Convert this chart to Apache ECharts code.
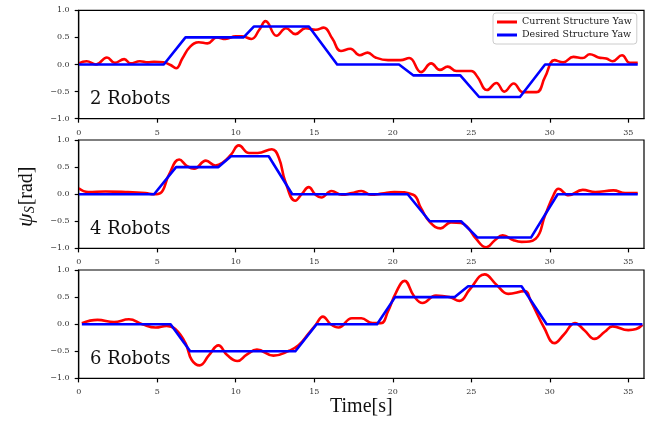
<!DOCTYPE html>
<html>
<head>
<meta charset="utf-8">
<script src="https://cdn.jsdelivr.net/npm/echarts@6/dist/echarts.min.js"></script>
<style>html,body{margin:0;padding:0;background:#fff}#c{width:657px;height:428px}</style>
</head>
<body>
<div id="c"></div>
<script>
const panelLabels = ['2 Robots', '4 Robots', '6 Robots'];
const seriesNames = ['Current Structure Yaw', 'Desired Structure Yaw'];
const yTicks = [-1.0, -0.5, 0.0, 0.5, 1.0];

// 2 robots
const current2 = [[0,0.02],[0.5,0.06],[1.1,0.0],[1.8,0.13],[2.3,0.03],[2.9,0.1],[3.3,0.02],[3.9,0.06],[4.4,0.04],[4.8,0.05],[5.4,0.04],[5.85,-0.01],[6.2,-0.07],[6.6,0.11],[7.1,0.33],[7.65,0.41],[8.2,0.39],[8.8,0.5],[9.35,0.47],[10.0,0.52],[10.4,0.52],[11.0,0.47],[11.5,0.64],[11.9,0.8],[12.6,0.53],[13.2,0.67],[13.8,0.56],[14.45,0.67],[15.1,0.64],[15.6,0.68],[16.15,0.48],[16.7,0.25],[17.3,0.29],[17.9,0.17],[18.4,0.22],[18.9,0.13],[19.7,0.08],[20.5,0.08],[21.05,0.12],[21.8,-0.14],[22.45,0.02],[23.0,-0.1],[23.5,-0.04],[24.05,-0.12],[25.0,-0.12],[25.4,-0.23],[26.0,-0.47],[26.6,-0.34],[27.1,-0.5],[27.7,-0.35],[28.3,-0.51],[29.15,-0.51],[29.7,-0.23],[30.3,0.08],[30.85,0.04],[31.5,0.14],[32.1,0.12],[32.55,0.19],[33.1,0.13],[33.6,0.11],[34.0,0.06],[34.6,0.17],[35.1,0.03],[35.6,0.03]];
const desired2 = [[0,0],[5.42,0],[6.8,0.5],[10.5,0.5],[11.15,0.7],[14.66,0.7],[16.46,0],[20.4,0],[21.3,-0.2],[24.3,-0.2],[25.5,-0.6],[28.1,-0.6],[29.7,0],[35.6,0]];

// 4 robots
const current4 = [[0,0.11],[0.6,0.04],[1.7,0.05],[3.0,0.04],[4.25,0.02],[4.8,0],[5.2,0.02],[5.75,0.36],[6.4,0.64],[6.9,0.52],[7.35,0.47],[8.1,0.62],[8.7,0.53],[9.15,0.58],[9.7,0.73],[10.2,0.9],[10.85,0.76],[11.4,0.76],[12.3,0.83],[12.75,0.67],[13.15,0.24],[13.8,-0.12],[14.2,0],[14.65,0.13],[15.05,0],[15.45,-0.06],[16.1,0.06],[16.75,-0.01],[17.4,0.02],[18.0,0.06],[18.6,-0.01],[19.3,0.01],[20.1,0.04],[21.3,-0.01],[21.8,-0.26],[22.35,-0.51],[23.05,-0.63],[23.7,-0.52],[24.35,-0.53],[24.8,-0.62],[25.3,-0.82],[25.95,-0.98],[26.5,-0.85],[27.0,-0.76],[27.7,-0.85],[28.2,-0.88],[29.1,-0.82],[29.7,-0.39],[30.25,-0.01],[30.55,0.1],[31.2,-0.02],[32.1,0.08],[32.9,0.04],[34.05,0.07],[34.8,0.02],[35.6,0.02]];
const desired4 = [[0,0],[4.8,0],[6.2,0.5],[8.9,0.5],[9.7,0.7],[12.1,0.7],[13.6,0],[20.95,0],[22.35,-0.5],[24.35,-0.5],[25.4,-0.8],[28.8,-0.8],[30.5,0],[35.6,0]];

// 6 robots
const current6 = [[0.2,0.02],[1.2,0.08],[2.25,0.04],[3.2,0.09],[4.05,0],[4.9,-0.06],[5.6,-0.03],[6.15,-0.09],[6.8,-0.35],[7.2,-0.66],[7.7,-0.76],[8.3,-0.57],[8.9,-0.39],[9.45,-0.57],[10.1,-0.68],[10.7,-0.56],[11.35,-0.47],[12.4,-0.58],[13.4,-0.49],[14.0,-0.39],[14.65,-0.17],[15.1,-0.01],[15.55,0.14],[16.05,0],[16.55,-0.06],[17.4,0.11],[18.0,0.11],[18.7,0.02],[19.25,0.02],[19.7,0.24],[20.2,0.58],[20.75,0.8],[21.35,0.52],[21.9,0.39],[22.75,0.53],[23.6,0.5],[24.25,0.43],[24.9,0.64],[25.85,0.92],[26.6,0.73],[27.35,0.56],[28.4,0.61],[28.8,0.42],[29.65,-0.07],[30.3,-0.35],[30.9,-0.19],[31.6,0.02],[32.2,-0.11],[32.85,-0.27],[33.5,-0.14],[34.0,-0.04],[35.0,-0.11],[35.5,-0.09],[35.9,-0.01]];
const desired6 = [[0.2,0],[5.85,0],[7.1,-0.5],[13.8,-0.5],[15.15,0],[19.0,0],[20.15,0.5],[23.95,0.5],[24.8,0.7],[28.2,0.7],[29.8,0],[35.9,0]];

const currents = [current2, current4, current6];
const desireds = [desired2, desired4, desired6];

const gridTops = [10.3, 140, 270];
const gridH = 108.4;
const gridLeft = 78.7;
const gridW = 565.3;
const tickFont = {fontFamily: 'DejaVu Serif', fontSize: 8, color: '#333'};

const grids = [], xAxes = [], yAxes = [], series = [], graphics = [];
for (let i = 0; i < 3; i++) {
  grids.push({left: gridLeft, top: gridTops[i], width: gridW, height: gridH, show: true, borderColor: '#000', borderWidth: 1.2, backgroundColor: 'transparent'});
  xAxes.push({type: 'value', gridIndex: i, min: 0, max: 36, interval: 5, position: 'bottom', z: 5,
    axisLine: {show: true, onZero: false, lineStyle: {color: '#000', width: 1.2}}, splitLine: {show: false},
    axisTick: {show: true, inside: false, length: 4, lineStyle: {color: '#000', width: 1.2}},
    axisLabel: Object.assign({margin: 10, showMaxLabel: false, formatter: v => (v % 5 === 0 ? String(v) : '')}, tickFont)});
  yAxes.push({type: 'value', gridIndex: i, min: -1, max: 1, interval: 0.5, position: 'left', z: 5,
    axisLine: {show: true, onZero: false, lineStyle: {color: '#000', width: 1.2}}, splitLine: {show: false},
    axisTick: {show: true, inside: false, length: 4, lineStyle: {color: '#000', width: 1.2}},
    axisLabel: Object.assign({margin: 9, formatter: v => v.toFixed(1).replace('-', '\u2212')}, tickFont)});
  series.push({name: seriesNames[0], type: 'line', xAxisIndex: i, yAxisIndex: i, data: currents[i],
    smooth: 0.45, showSymbol: false, symbol: 'none', lineStyle: {color: '#ff0000', width: 2.6}, itemStyle: {color: '#ff0000'}, z: 2});
  series.push({name: seriesNames[1], type: 'line', xAxisIndex: i, yAxisIndex: i, data: desireds[i],
    smooth: false, showSymbol: false, symbol: 'none', lineStyle: {color: '#0000ff', width: 2.6, join: 'round'}, itemStyle: {color: '#0000ff'}, z: 3});
  graphics.push({type: 'text', left: 90, top: gridTops[i] + 80, z: 10,
    style: {text: panelLabels[i], font: '18px "DejaVu Serif"', fill: '#111'}});
}

graphics.push({type: 'text', left: 330, top: 397, z: 10,
  style: {text: 'Time[s]', font: '20px "Liberation Serif"', fill: '#111'}});
graphics.push({type: 'text', x: 15, y: 227, rotation: Math.PI / 2, z: 10,
  style: {text: '{p|\u03c8}{s|S}{r|[rad]}', fill: '#111',
    rich: {p: {font: 'italic 22px "Liberation Serif"', fill: '#111', verticalAlign: 'bottom'},
           s: {font: 'italic 14px "Liberation Serif"', fill: '#111', padding: [6, 1, 0, 0], verticalAlign: 'bottom'},
           r: {font: '20px "Liberation Serif"', fill: '#111', verticalAlign: 'bottom'}}}});

const chart = echarts.init(document.getElementById('c'), null, {renderer: 'canvas'});
chart.setOption({
  animation: false,
  backgroundColor: '#fff',
  grid: grids, xAxis: xAxes, yAxis: yAxes, series: series,
  legend: {data: seriesNames, left: 493, top: 13, orient: 'vertical', itemGap: 3, itemWidth: 20, itemHeight: 3, icon: 'rect',
    padding: [4, 5, 4, 4], borderColor: '#ccc', borderWidth: 1, borderRadius: 3, backgroundColor: 'rgba(255,255,255,0.85)',
    textStyle: {fontFamily: 'DejaVu Serif', fontSize: 9.5, color: '#222'}},
  graphic: graphics
});
</script>
</body>
</html>
